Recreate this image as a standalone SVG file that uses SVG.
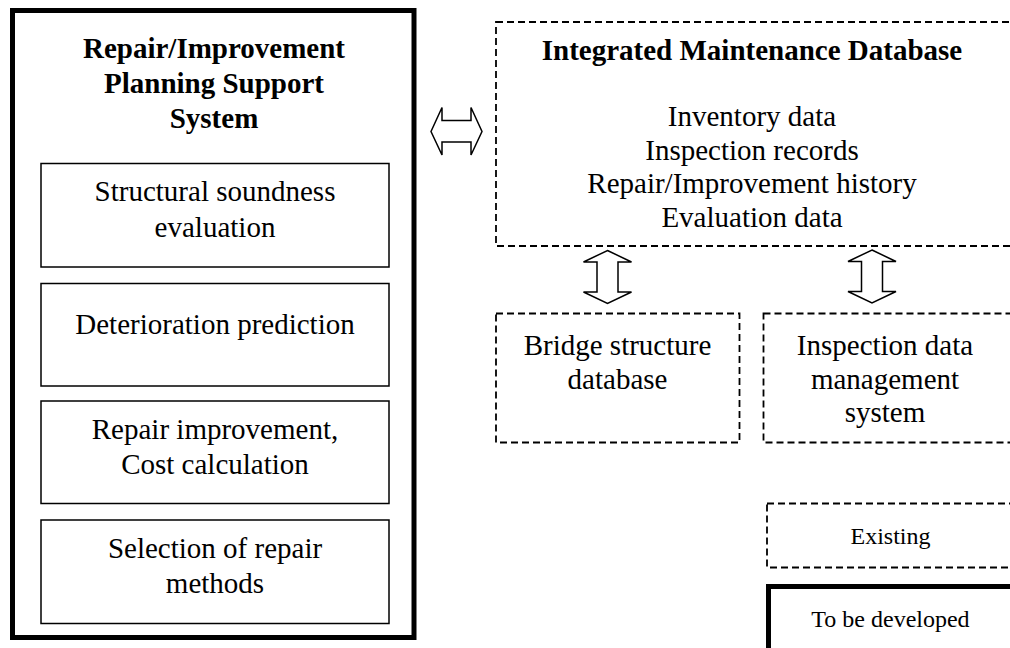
<svg xmlns="http://www.w3.org/2000/svg" width="1010" height="648" viewBox="0 0 1010 648">
  <style>
    text { font-family: "Liberation Serif", "Times New Roman", serif; fill: #000; text-anchor: middle; }
    .t { font-size: 29px; }
    .b { font-size: 29px; font-weight: bold; }
    .s { font-size: 24px; }
    .thick { fill: #fff; stroke: #000; stroke-width: 5; }
    .thin { fill: #fff; stroke: #000; stroke-width: 1.5; }
    .dash { fill: none; stroke: #000; stroke-width: 1.8; stroke-dasharray: 7 4; }
    .arrow { fill: #fff; stroke: #000; stroke-width: 1.5; stroke-linejoin: miter; }
  </style>
  <rect width="1010" height="648" fill="#fff"/>

  <!-- Planning support system (to be developed) -->
  <g id="planning-system">
    <rect class="thick" x="12.5" y="10.5" width="401.5" height="627"/>
    <text class="b" x="214" y="58">Repair/Improvement</text>
    <text class="b" x="214" y="93">Planning Support</text>
    <text class="b" x="214" y="128">System</text>
  </g>
  <g id="soundness">
    <rect class="thin" x="41" y="163.5" width="348" height="103.5"/>
    <text class="t" x="215" y="201">Structural soundness</text>
    <text class="t" x="215" y="236.5">evaluation</text>
  </g>
  <g id="deterioration">
    <rect class="thin" x="41" y="283.5" width="348" height="102.5"/>
    <text class="t" x="215" y="334">Deterioration prediction</text>
  </g>
  <g id="cost">
    <rect class="thin" x="41" y="401" width="348" height="102.5"/>
    <text class="t" x="215" y="438.5">Repair improvement,</text>
    <text class="t" x="215" y="473.5">Cost calculation</text>
  </g>
  <g id="methods">
    <rect class="thin" x="41" y="520" width="348" height="103.5"/>
    <text class="t" x="215" y="557.5">Selection of repair</text>
    <text class="t" x="215" y="593">methods</text>
  </g>

  <!-- Existing databases -->
  <g id="maintenance-db">
    <rect class="dash" x="496" y="22" width="530" height="224"/>
    <text class="b" x="752" y="59.5">Integrated Maintenance Database</text>
    <text class="t" x="752" y="126">Inventory data</text>
    <text class="t" x="752" y="159.5">Inspection records</text>
    <text class="t" x="752" y="193">Repair/Improvement history</text>
    <text class="t" x="752" y="226.5">Evaluation data</text>
  </g>
  <g id="bridge-db">
    <rect class="dash" x="496" y="313.5" width="243.5" height="129"/>
    <text class="t" x="617.5" y="355">Bridge structure</text>
    <text class="t" x="617.5" y="388.5">database</text>
  </g>
  <g id="inspection-system">
    <rect class="dash" x="763.5" y="313.5" width="270" height="129"/>
    <text class="t" x="885" y="355">Inspection data</text>
    <text class="t" x="885" y="388.5">management</text>
    <text class="t" x="885" y="422">system</text>
  </g>

  <!-- Legend -->
  <g id="legend-existing">
    <rect class="dash" x="767" y="503.5" width="270" height="64"/>
    <text class="s" x="890.5" y="544">Existing</text>
  </g>
  <g id="legend-new">
    <rect class="thick" x="768.5" y="586.5" width="270" height="90"/>
    <text class="s" x="890.5" y="626.5">To be developed</text>
  </g>

  <!-- Two-way block arrows -->
  <g id="connectors">
    <polygon class="arrow" points="431,131.5 442,107.5 442,120.5 471,120.5 471,107.5 482,131.5 471,155 471,142 442,142 442,155"/>
    <polygon class="arrow" points="607.5,250.5 631.5,262 618,262 618,292 631.5,292 607.5,303.5 583.5,292 597,292 597,262 583.5,262"/>
    <polygon class="arrow" points="872,250 896,261.5 882.5,261.5 882.5,291.5 896,291.5 872,303 848,291.5 861.5,291.5 861.5,261.5 848,261.5"/>
  </g>
</svg>
